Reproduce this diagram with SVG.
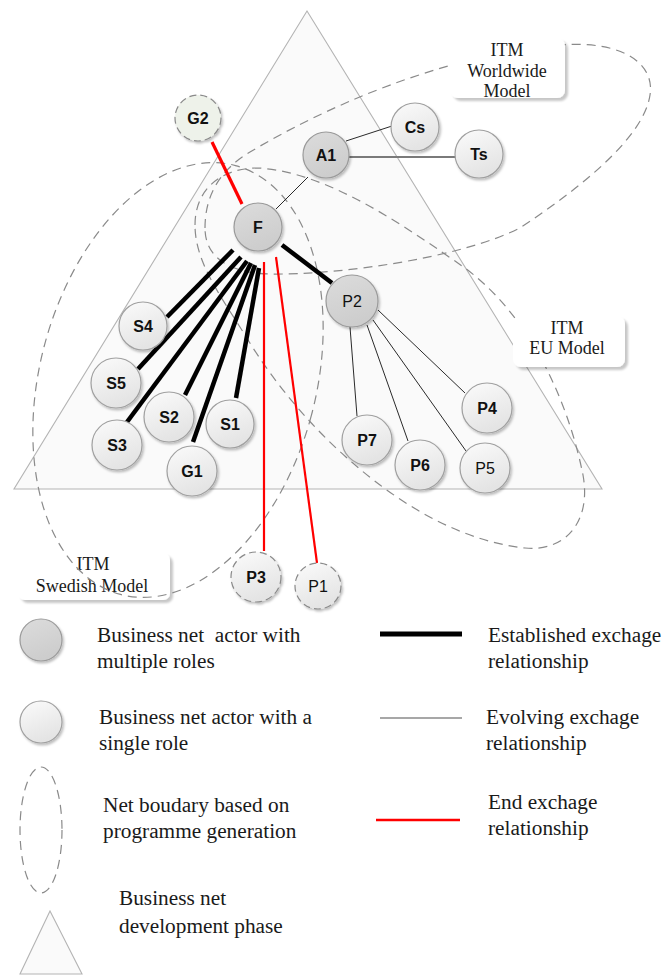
<svg xmlns="http://www.w3.org/2000/svg" width="665" height="976" viewBox="0 0 665 976">
  <defs>
    <linearGradient id="gSingle" x1="0" y1="0" x2="0.4" y2="1">
      <stop offset="0" stop-color="#fbfbfb"/>
      <stop offset="1" stop-color="#e4e4e4"/>
    </linearGradient>
    <linearGradient id="gMulti" x1="0" y1="0" x2="0.4" y2="1">
      <stop offset="0" stop-color="#dcdcdc"/>
      <stop offset="1" stop-color="#cdcdcd"/>
    </linearGradient>
    <filter id="shadow" x="-30%" y="-30%" width="160%" height="160%">
      <feDropShadow dx="1.5" dy="2" stdDeviation="1.2" flood-color="#000" flood-opacity="0.25"/>
    </filter>
    <filter id="boxShadow" x="-10%" y="-10%" width="130%" height="130%">
      <feDropShadow dx="3" dy="3" stdDeviation="1.2" flood-color="#000" flood-opacity="0.22"/>
    </filter>
  </defs>
  <style>
    .phase { fill: #fafafa; stroke: #b4b4b4; stroke-width: 1.1; }
    .boundary { fill: none; stroke: #8a8a8a; stroke-width: 1.2; stroke-dasharray: 9 6; }
    .box { fill: #ffffff; stroke: none; filter: url(#boxShadow); }
    .boxText { font-family: "Liberation Serif", "Times New Roman", serif; font-size: 18px; fill: #1a1a1a; text-anchor: middle; }
    .single { fill: url(#gSingle); stroke: #a0a0a0; stroke-width: 1.2; filter: url(#shadow); }
    .multi { fill: url(#gMulti); stroke: #9a9a9a; stroke-width: 1.2; filter: url(#shadow); }
    .ended { fill: url(#gSingle); stroke: #8a8a8a; stroke-width: 1.2; stroke-dasharray: 7 4; filter: url(#shadow); }
    .label { font-family: "Liberation Sans", Arial, sans-serif; font-size: 16px; fill: #111; text-anchor: middle; font-weight: bold; }
    .label.reg { font-weight: normal; }
    .established { stroke: #000; stroke-width: 4.5; stroke-linecap: butt; }
    .evolving { stroke: #2a2a2a; stroke-width: 1; }
    .evolvingGray { stroke: #7a7a7a; stroke-width: 2; }
    .end { stroke: #ff0000; stroke-width: 2.2; }
    .endThick { stroke: #ff0000; stroke-width: 3.2; }
    .legendText { font-family: "Liberation Serif", "Times New Roman", serif; font-size: 21.3px; fill: #1a1a1a; white-space: pre; }
  </style>

  <!-- development phase triangle -->
  <polygon class="phase" points="307,11 602,489 14,489"/>

  <!-- Swedish model label sits under its boundary -->
  <g id="label-swedish">
    <rect class="box" x="18" y="553" width="152" height="47" rx="7"/>
    <text class="boxText" x="93" y="570">ITM</text>
    <text class="boxText" x="92" y="592">Swedish Model</text>
  </g>

  <!-- net boundaries -->
  <g id="boundaries">
    <ellipse id="boundary-swedish" class="boundary" cx="178" cy="380" rx="138" ry="222" transform="rotate(15 178 380)"/>
    <path id="boundary-eu" class="boundary" d="M195,225 C195,190 220,168 258,168 C330,172 410,230 465,268 C535,320 570,410 583,475 C592,525 562,552 525,548 C470,542 420,515 380,485 C320,440 275,385 245,335 C220,295 195,262 195,225 Z"/>
    <path id="boundary-worldwide" class="boundary" d="M205,228 C205,195 220,170 250,152 C320,110 440,55 560,45 C625,40 655,65 650,95 C645,130 600,175 520,228 C460,258 340,275 270,274 C230,273 205,258 205,228 Z"/>
  </g>

  <g id="label-worldwide">
    <rect class="box" x="450" y="38" width="115" height="60" rx="8"/>
    <text class="boxText" x="507" y="56">ITM</text>
    <text class="boxText" x="507" y="77">Worldwide</text>
    <text class="boxText" x="507" y="97">Model</text>
  </g>
  <g id="label-eu">
    <rect class="box" x="513" y="316" width="112" height="51" rx="8"/>
    <text class="boxText" x="567" y="334">ITM</text>
    <text class="boxText" x="567" y="354">EU Model</text>
  </g>

  <!-- exchange relationships -->
  <g id="connectors">
    <line class="endThick" x1="212" y1="142" x2="242" y2="204"/>
    <line class="evolving" x1="308" y1="177" x2="276" y2="209"/>
    <line class="evolving" x1="346" y1="141" x2="392" y2="126"/>
    <line class="evolvingGray" x1="349" y1="157" x2="456" y2="157"/>
    <line class="established" x1="282" y1="245" x2="332" y2="283"/>
    <line class="established" x1="233" y1="250" x2="167" y2="317"/>
    <line class="established" x1="241" y1="257" x2="138" y2="369"/>
    <line class="established" x1="247" y1="261" x2="127" y2="422"/>
    <line class="established" x1="251" y1="263" x2="185" y2="395"/>
    <line class="established" x1="255" y1="265" x2="193" y2="442"/>
    <line class="established" x1="259" y1="268" x2="236" y2="398"/>
    <line class="end" x1="264" y1="262" x2="264" y2="551"/>
    <line class="end" x1="276" y1="257" x2="317" y2="563"/>
    <line class="evolving" x1="350" y1="327" x2="357" y2="416"/>
    <line class="evolving" x1="367" y1="325" x2="408" y2="441"/>
    <line class="evolving" x1="373" y1="320" x2="466" y2="451"/>
    <line class="evolving" x1="378" y1="310" x2="465" y2="393"/>
  </g>

  <!-- actors -->
  <g id="node-G2"><circle cx="198" cy="118" r="23" class="ended" style="fill:#eef2ea"/><text class="label" x="198" y="124">G2</text></g>
  <g id="node-A1"><circle cx="326" cy="155" r="23" class="multi"/><text class="label" x="326" y="161">A1</text></g>
  <g id="node-Cs"><circle cx="415" cy="127" r="24" class="single"/><text class="label" x="415" y="133">Cs</text></g>
  <g id="node-Ts"><circle cx="479" cy="154" r="24" class="single"/><text class="label" x="479" y="160">Ts</text></g>
  <g id="node-F"><circle cx="258" cy="227" r="24" class="multi"/><text class="label" x="258" y="233">F</text></g>
  <g id="node-P2"><circle cx="352" cy="301" r="26" class="multi"/><text class="label reg" x="352" y="307">P2</text></g>
  <g id="node-P4"><circle cx="487" cy="408" r="25" class="single"/><text class="label" x="487" y="414">P4</text></g>
  <g id="node-P7"><circle cx="367" cy="440" r="25" class="single"/><text class="label" x="367" y="446">P7</text></g>
  <g id="node-P6"><circle cx="420" cy="465" r="25" class="single"/><text class="label" x="420" y="471">P6</text></g>
  <g id="node-P5"><circle cx="485" cy="468" r="25" class="single"/><text class="label reg" x="485" y="474">P5</text></g>
  <g id="node-S4"><circle cx="143" cy="326" r="24" class="single"/><text class="label" x="143" y="332">S4</text></g>
  <g id="node-S5"><circle cx="116" cy="383" r="25" class="single"/><text class="label" x="116" y="389">S5</text></g>
  <g id="node-S2"><circle cx="169" cy="417" r="25" class="single"/><text class="label" x="169" y="423">S2</text></g>
  <g id="node-S1"><circle cx="230" cy="424" r="24" class="single"/><text class="label" x="230" y="430">S1</text></g>
  <g id="node-S3"><circle cx="117" cy="445" r="25" class="single"/><text class="label" x="117" y="451">S3</text></g>
  <g id="node-G1"><circle cx="192" cy="471" r="25" class="single"/><text class="label" x="192" y="477">G1</text></g>
  <g id="node-P3"><circle cx="256" cy="577" r="25" class="ended"/><text class="label" x="256" y="583">P3</text></g>
  <g id="node-P1"><circle cx="318" cy="586" r="23" class="ended"/><text class="label reg" x="318" y="592">P1</text></g>

  <!-- legend -->
  <g id="legend">
    <circle cx="41" cy="640" r="21" class="multi"/>
    <text class="legendText" x="97" y="642" xml:space="preserve">Business net  actor with</text>
    <text class="legendText" x="97" y="668">multiple roles</text>

    <circle cx="41" cy="722" r="21" class="single"/>
    <text class="legendText" x="99" y="724">Business net actor with a</text>
    <text class="legendText" x="99" y="750">single role</text>

    <ellipse cx="41" cy="830" rx="21" ry="63" class="boundary"/>
    <text class="legendText" x="103" y="812">Net boudary based on</text>
    <text class="legendText" x="103" y="838">programme generation</text>

    <polygon class="phase" points="50,911 82,974 20,974"/>
    <text class="legendText" x="119" y="905">Business net</text>
    <text class="legendText" x="119" y="933">development phase</text>

    <line class="established" x1="380" y1="634" x2="462" y2="634" style="stroke-width:5"/>
    <text class="legendText" x="488" y="642">Established exchage</text>
    <text class="legendText" x="488" y="668">relationship</text>

    <line x1="380" y1="718" x2="462" y2="718" stroke="#8a8a8a" stroke-width="1.5"/>
    <text class="legendText" x="486" y="724">Evolving exchage</text>
    <text class="legendText" x="486" y="750">relationship</text>

    <line class="end" x1="376" y1="820" x2="460" y2="820" style="stroke-width:2.5"/>
    <text class="legendText" x="488" y="809">End exchage</text>
    <text class="legendText" x="488" y="835">relationship</text>
  </g>
</svg>
